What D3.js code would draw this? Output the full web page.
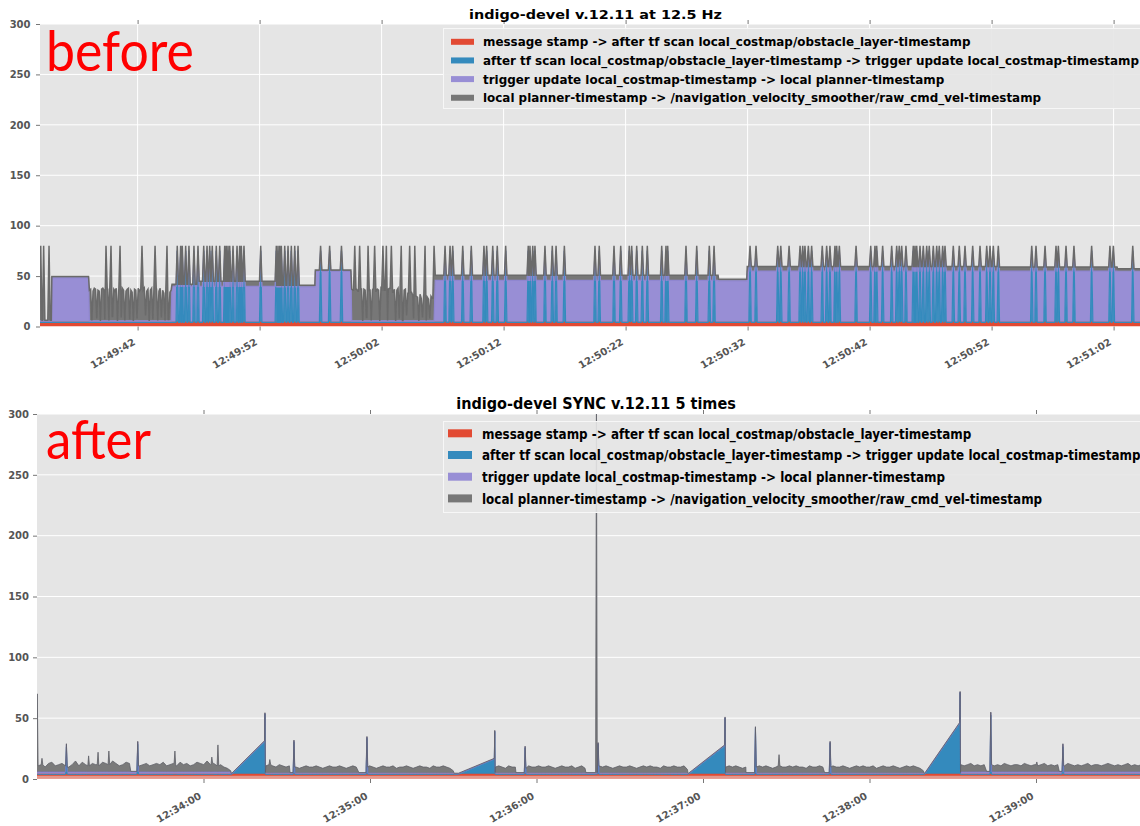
<!DOCTYPE html>
<html><head><meta charset="utf-8">
<script src="https://cdn.jsdelivr.net/npm/d3@7/dist/d3.min.js"></script>
<style>html,body{margin:0;padding:0;background:#fff;}svg{display:block;}</style>
</head><body>
<svg id="chart" width="1140" height="826"></svg>
<script>
// ================= DATA =================
const seriesNames = [
  "message stamp -> after tf scan local_costmap/obstacle_layer-timestamp",
  "after tf scan local_costmap/obstacle_layer-timestamp -> trigger update local_costmap-timestamp",
  "trigger update local_costmap-timestamp -> local planner-timestamp",
  "local planner-timestamp -> /navigation_velocity_smoother/raw_cmd_vel-timestamp"
];
const seriesKeys = ["red", "blue", "purple", "gray"];
const seriesColors = ["#E24A33", "#348ABD", "#988ED5", "#777777"];
const yTickValues = [0, 50, 100, 150, 200, 250, 300];

// ---- top panel ("before"), times in seconds after 12:49:34 ----
const topTitle = "indigo-devel v.12.11 at 12.5 Hz";
const topLabel = "before";
const topStart = "12:49:34", topEnd = "12:51:05";
const topTickLabels = ["12:49:42", "12:49:52", "12:50:02", "12:50:12", "12:50:22", "12:50:32", "12:50:42", "12:50:52", "12:51:02"];
const topRed = 3.5, topBlue = 0.6, topNoisePurple = 1.5, topSpikePeak = 80;
// flat stretches: [start s, end s, purple, gray]
const topBlocks = [
  [0.0, 0.95, 1.5, 0.5],
  [0.95, 4.0, 44.2, 1.2],
  [10.8, 13.0, 35.7, 2.2],
  [13.0, 19.3, 35.7, 5],
  [19.3, 22.55, 35.2, 1.5],
  [22.55, 25.5, 50.5, 1.5],
  [32.4, 55.6, 41.7, 5],
  [55.6, 57.95, 41.2, 1.5],
  [57.95, 78.6, 50.9, 4.6],
  [78.6, 88.3, 50.9, 4],
  [88.3, 91.5, 50.7, 2.5]
];
// noisy stretches: total height of the gray layer top
const topNoise1 = [4.05, 10.75, [36,37,6,35,38,37,8,36,35,5,37,38,36,7,35,37,6,38,36,10,37,35,38,5,36,37,9,38,36,6,35,37,38,7,36,34,5,37,36,8,38,35,37,6,36,38,11,35,37,5,36,38,7,34,36,37,6,35,38,9,36,33,6,35,37,7,34,36]];
const topNoise2 = [25.55, 32.35, [37,36,7,38,37,35,6,36,38,5,37,36,9,38,35,37,6,36,38,7,35,37,36,5,38,37,10,36,35,6,37,38,7,36,34,37,5,36,38,8,37,35,6,36,37,11,33,35,6,34,31,8,33,30,29,5,32,28,9,31,30,6,29,27,8,30,28,6,30]];
const topSpikes = [0.06,0.3,0.74,
  5.41,5.82,6.56,8.36,9.43,10.41,
  11.25,11.53,11.66,11.94,12.21,12.62,12.95,13.42,13.69,13.91,14.12,14.45,14.73,15.14,15.27,15.41,15.55,15.82,16.15,16.37,16.5,16.72,18.09,19.37,19.51,19.65,19.78,20.06,20.33,20.6,20.88,21.15,
  23.0,23.74,24.71,
  25.8,26.2,26.89,27.43,28.11,28.39,28.8,29.61,30.3,30.72,31.56,32.3,
  33.2,33.61,33.83,34.65,35.35,36.39,36.61,37.11,37.48,38.17,40.02,40.16,40.39,40.57,41.39,41.99,42.3,42.98,45.49,45.84,47.05,47.6,48.3,48.5,48.91,49.37,49.78,50.96,51.31,51.45,52.95,53.83,54.86,55.25,
  58.2,58.69,60.47,60.72,61.4,62.3,62.52,62.7,62.98,63.25,64.12,64.48,64.75,65.16,65.3,65.52,66.89,68.09,68.44,68.58,69.07,69.81,70.22,70.43,70.63,70.98,71.58,71.72,71.86,72.13,72.4,72.68,72.89,73.22,73.5,73.71,73.99,74.18,74.86,75.35,75.82,76.45,77.05,77.6,77.87,78.14,78.55,81.29,81.64,82.38,83.28,83.47,84.1,84.75,86.2,87.7,87.98,89.57];

// ---- bottom panel ("after"), times in seconds after 12:33:00 ----
const botTitle = "indigo-devel SYNC v.12.11 5 times";
const botLabel = "after";
const botStart = "12:33:00", botEnd = "12:39:44";
const botTickLabels = ["12:34:00", "12:35:00", "12:36:00", "12:37:00", "12:38:00", "12:39:00"];
const botRed = 3.5, botBlue = 0.3;
// [start s, end s, purple, gray values]
const botSeg1 = [0.5, 69.8, 2, [5,6,4,7,8,5,6,7,5,4,6,9,5,8,6,5,7,6,5,8,7,6,9,7,5,6,8,7,2,1,5,6,7,5,6,7,6,8,5,6,7,5,8,6,7,5,6,8,7,6,9,6,7,5,6,4,3,1]];
const botSeg2 = [82.5, 150.0, 1, [6,7,6,5,7,6,5,6,5,5,4,5,6,5,5,6,5,4,5,6,5,5,6,5,4,5,6,5,5,6,5,6,5,4,5,6,5,5,6,4,5,5,6,5,4,5,6,5,5,4,6,5,5,6,5,4,2]];
const botSeg3 = [165.2, 197.5, 1, [5,6,5,4,6,5,5,6,5,4,6,5,5,6,5,5,6,5,4,5,6,5,5,6,4,5,6,4]];
const botSeg4 = [202.6, 234.4, 1, [6,5,6,5,4,5,6,5,5,6,5,4,5,6,5,6,5,5,4,6,5,5,6,5,5,6,3]];
const botSeg5 = [248.2, 319.4, 1, [5,6,5,6,5,4,5,6,5,5,6,5,6,5,4,5,6,5,5,6,5,6,5,5,4,6,5,5,6,5,4,5,6,5,5,6,5,4,5,6,5,6,5,5,6,4,5,6,5,5,6,5,4,5,6,5,6,5,4,2]];
const botSeg6 = [332.9, 404, 2, [6,5,6,7,5,6,5,6,7,6,5,6,5,7,6,5,6,6,5,7,6,5,6,5,6,7,5,6,5,6,6,5,7,6,5,6,5,6,7,5,6,6,5,6,7,6,5,6,5,6,7,5,6,5,6,6,5,7,6,6]];
const botDips = [[33.8,36.0],[91.2,92.3],[116.0,118.6],[172.6,175.6],[197.8,201.3],[255.5,258.6],[283.8,285.5],[342.2,343.4],[368.4,369.4]];
// [gap start, ramp start, ramp end, blue at ramp end, spike total]
const botRamps = [[70.0,70.2,82.0,27,54.5],[150.3,151.9,164.8,12.5,40],[234.6,234.8,247.8,23.5,51],[319.7,319.9,332.5,42,72]];
const botBlueSpikes = [[10.6,29],[36.3,31],[92.6,32],[118.9,35],[175.9,27],[202.2,30],[258.9,43],[285.8,31],[343.7,55],[369.7,29]];
const botGraySpikes = [[0.1,70],[1.8,17],[18.6,19],[22.0,22],[25.9,23],[49.7,23],[63.0,18],[65.2,28],[83.9,16],[201.6,310],[267.4,20],[360.3,14]];

// ================= BUILD ROWS =================
function buildTop() {
  const rows = [];
  const noises = [topNoise1, topNoise2];
  const push = (t, b, p, g) => rows.push({t, red: topRed, blue: b, purple: p, gray: Math.max(0, g)});
  const near = t => topSpikes.some(s => Math.abs(s - t) < 0.1);
  const base = t => {
    for (const [a, b, p, g] of topBlocks) if (t >= a && t <= b) return {kind: p > 10 ? "block" : "low", p, g};
    for (const [a, b, vals] of noises) if (t >= a - 0.1 && t <= b + 0.1) {
      let i = Math.round((t - a) / (b - a) * (vals.length - 1));
      i = Math.max(0, Math.min(vals.length - 1, i));
      return {kind: "noise", p: topNoisePurple, g: vals[i] - topRed - topBlue - topNoisePurple};
    }
    return {kind: "low", p: 1.5, g: 0.5};
  };
  topBlocks.forEach(([a, b, p, g]) => [a + 0.02, b - 0.02].forEach(t => { if (!near(t)) push(t, topBlue, p, g); }));
  noises.forEach(([a, b, vals]) => vals.forEach((v, i) => {
    const t = a + i * (b - a) / (vals.length - 1);
    if (!near(t)) push(t, topBlue, topNoisePurple, v - topRed - topBlue - topNoisePurple);
  }));
  topSpikes.forEach(s => {
    const L = base(s);
    [s - 0.1, s + 0.1].forEach(t => { const q = base(t); push(t, topBlue, q.p, q.g); });
    if (L.kind === "block") push(s, topSpikePeak - topRed - 5, 0, 5);
    else push(s, topBlue, topNoisePurple, topSpikePeak - topRed - topBlue - topNoisePurple);
  });
  rows.sort((a, b) => a.t - b.t);
  return rows;
}

function buildBottom() {
  const rows = [];
  const segs = [botSeg1, botSeg2, botSeg3, botSeg4, botSeg5, botSeg6];
  const R = botRed, B = botBlue;
  const push = (t, b, p, g) => rows.push({t, red: R, blue: b, purple: p, gray: Math.max(0, g)});
  const inDip = t => botDips.some(([a, b]) => t >= a && t <= b);
  const spikeTimes = botBlueSpikes.map(d => d[0]).concat(botGraySpikes.map(d => d[0]));
  const nearSpike = t => spikeTimes.some(s => Math.abs(s - t) < 0.45);
  const segAt = t => segs.find(([a, b]) => t >= a - 0.6 && t <= b + 0.6);
  const purAt = t => { const s = segAt(t); return s ? s[2] : 1; };
  const grayAt = t => {
    if (inDip(t)) return 0.5;
    const s = segAt(t); if (!s) return 0.5;
    const [a, b, , vals] = s;
    let i = Math.round((t - a) / (b - a) * (vals.length - 1));
    i = Math.max(0, Math.min(vals.length - 1, i));
    return vals[i];
  };
  segs.forEach(([a, b, pur, vals]) => vals.forEach((v, i) => {
    const t = a + i * (b - a) / (vals.length - 1);
    if (!inDip(t) && !nearSpike(t)) push(t, B, pur, v);
  }));
  botDips.forEach(([a, b]) => { push(a, B, purAt(a), 0.5); push(b, B, purAt(b), 0.5); });
  botRamps.forEach(([gap, a, b, peak, spike]) => {
    push(gap, B, 0.5, 0.5); push(a, B, 0.5, 0.5);
    push(b, peak, 0.5, 0.5);
    push(b + 0.15, spike - R - 1, 0.5, 0.5);
    push(b + 0.3, B, 1, 0.5);
  });
  botBlueSpikes.forEach(([t, total]) => {
    const p = purAt(t);
    push(t - 0.3, B, p, grayAt(t - 0.3));
    push(t, total - R - p - 0.5, p, 0.5);
    push(t + 0.3, B, p, grayAt(t + 0.3));
  });
  botGraySpikes.forEach(([t, total]) => {
    const p = purAt(t);
    push(t - 0.3, B, p, grayAt(t - 0.3));
    push(t, B, p, total - R - B - p);
    push(t + 0.3, B, p, grayAt(t + 0.3));
  });
  rows.sort((a, b) => a.t - b.t);
  return rows;
}

// ================= DRAW =================
const svg = d3.select("#chart");
const parse = d3.timeParse("%H:%M:%S");
const FONT = "DejaVu Sans";

// text squeezed horizontally to a target width via a transform
function fitText(parent, str, x, y, targetW, anchor, attrs) {
  const g = parent.append("g");
  const t = g.append("text").attr("x", 0).attr("y", 0).attr("text-anchor", anchor).text(str);
  Object.entries(attrs).forEach(([k, v]) => t.attr(k, v));
  const w = t.node().getComputedTextLength();
  const k = targetW / w;
  g.attr("transform", `translate(${x},${y}) scale(${k},1)`);
  return g;
}

function drawPanel(p) {
  const g = svg.append("g");
  const t0 = parse(p.tStart);
  const x = d3.scaleTime().domain([t0, parse(p.tEnd)]).range([p.left, p.right]);
  const y = d3.scaleLinear().domain([0, 300]).range([p.bottom, p.top]);
  const tickDates = p.tickLabels.map(parse);

  g.append("rect").attr("x", p.left).attr("y", p.top).attr("width", p.right - p.left)
    .attr("height", p.bottom - p.top).attr("fill", "#E5E5E5");
  const clipId = "clip" + p.id;
  g.append("clipPath").attr("id", clipId).append("rect")
    .attr("x", p.left).attr("y", p.top).attr("width", p.right - p.left).attr("height", p.bottom - p.top);

  const grid = g.append("g");
  yTickValues.forEach(v => grid.append("line").attr("x1", p.left).attr("x2", p.right)
    .attr("y1", y(v)).attr("y2", y(v)).attr("stroke", "#fff").attr("stroke-width", 1));
  if (p.vgrid) tickDates.forEach(d => grid.append("line").attr("x1", x(d)).attr("x2", x(d))
    .attr("y1", p.top).attr("y2", p.bottom).attr("stroke", "#fff").attr("stroke-width", 1));

  const rows = p.rows.map(r => ({date: new Date(t0.getTime() + r.t * 1000), red: r.red, blue: r.blue, purple: r.purple, gray: r.gray}));
  const stacked = d3.stack().keys(seriesKeys)(rows);
  const area = d3.area().x(d => x(d.data.date)).y0(d => y(d[0])).y1(d => y(d[1]));
  const line = d3.line().x(d => x(d.data.date)).y(d => y(d[1]));
  const dg = g.append("g").attr("clip-path", `url(#${clipId})`);
  stacked.forEach((s, i) => dg.append("path").attr("d", area(s)).attr("fill", p.fills[i]).attr("fill-opacity", p.fillOpacity[i]));
  stacked.forEach((s, i) => dg.append("path").attr("d", line(s)).attr("fill", "none")
    .attr("stroke", p.strokes[i]).attr("stroke-width", p.lw[i]).attr("stroke-opacity", p.strokeOpacity[i]));

  // axes
  const ya = g.append("g").attr("transform", `translate(${p.left},0)`)
    .call(d3.axisLeft(y).tickValues(yTickValues).tickSize(4).tickPadding(p.ypad).tickFormat(d3.format("d")));
  ya.select(".domain").remove();
  ya.selectAll("line").attr("stroke", "#777");
  ya.selectAll("text").attr("font-family", FONT).attr("font-weight", "bold").attr("font-size", 10).attr("fill", "#555");

  const xa = g.append("g").attr("transform", `translate(0,${p.bottom})`)
    .call(d3.axisBottom(x).tickValues(tickDates).tickSize(4).tickFormat(d3.timeFormat("%H:%M:%S")));
  xa.select(".domain").remove();
  xa.selectAll("line").attr("stroke", "#777");
  xa.selectAll("text").attr("y", 0).attr("dy", 0).attr("text-anchor", "end")
    .attr("transform", `translate(-2,${p.xlabDy}) rotate(-30)`)
    .attr("font-family", FONT).attr("font-weight", "bold").attr("font-size", 10).attr("fill", "#555");

  const xt = g.append("g").attr("transform", `translate(0,${p.top})`)
    .call(d3.axisTop(x).tickValues(tickDates).tickSize(4).tickFormat(""));
  xt.select(".domain").remove();
  xt.selectAll("line").attr("stroke", "#777");

  // title
  fitText(g, p.title, p.titleX, p.titleY, p.titleLen, "middle",
    {"font-family": FONT, "font-weight": "bold", "font-size": p.titleSize, "fill": "#000"});

  // big red label
  fitText(g, p.label, p.labelX, p.labelY, p.labelLen, "start",
    {"font-family": "Lato, 'Liberation Sans', sans-serif", "font-size": p.labelSize, "fill": "#FF0000"});

  // legend
  const lg = g.append("g");
  lg.append("rect").attr("x", p.leg.x).attr("y", p.leg.y).attr("width", 760).attr("height", p.leg.h)
    .attr("fill", "#E5E5E5").attr("fill-opacity", 0.9).attr("stroke", "#f7f7f7").attr("stroke-width", 1);
  const items = [];
  seriesNames.forEach((name, i) => {
    const cy = p.leg.row0 + i * p.leg.step;
    lg.append("rect").attr("x", p.leg.px).attr("y", cy - p.leg.ph / 2).attr("width", p.leg.pw).attr("height", p.leg.ph)
      .attr("fill", seriesColors[i]);
    const ig = lg.append("g");
    const t = ig.append("text").attr("x", 0).attr("y", 0)
      .attr("font-family", FONT).attr("font-weight", "bold").attr("font-size", p.leg.fs).attr("fill", "#000").text(name);
    items.push({ig, t, cy});
  });
  const k = p.leg.row1Len / items[0].t.node().getComputedTextLength();
  items.forEach(({ig, cy}) => ig.attr("transform", `translate(${p.leg.tx},${cy + p.leg.base}) scale(${k},1)`));
}

drawPanel({
  id: "top", rows: buildTop(), tStart: topStart, tEnd: topEnd, tickLabels: topTickLabels,
  left: 40, right: 40 + 91 * 12.2, top: 24, bottom: 326.5, vgrid: true, ypad: 5.5, xlabDy: 17.5,
  fills: ["#E24A33", "#348ABD", "#988ED5", "#777777"], fillOpacity: [1, 0.95, 1, 1],
  strokes: ["#E24A33", "#348ABD", "#8f86d0", "#6a6a6a"], lw: [2.5, 1.2, 1.2, 1.5], strokeOpacity: [1, 1, 1, 1],
  title: topTitle, titleX: 595.5, titleY: 18.5, titleSize: 12.5, titleLen: 253,
  label: topLabel, labelX: 46, labelY: 71, labelSize: 57, labelLen: 148,
  leg: {x: 443.5, y: 28.5, h: 80, row0: 41.8, step: 18.65, px: 451, pw: 23, ph: 6, tx: 483, base: 4.4, fs: 12, row1Len: 488}
});
drawPanel({
  id: "bot", rows: buildBottom(), tStart: botStart, tEnd: botEnd, tickLabels: botTickLabels,
  left: 37, right: 37 + 404 * 2.775, top: 414, bottom: 779, vgrid: false, ypad: 4, xlabDy: 19,
  fills: ["#E24A33", "#348ABD", "#988ED5", "#7a7a7a"], fillOpacity: [0.5, 1, 1, 1],
  strokes: ["#E24A33", "#348ABD", "#7f76c4", "#5f6068"], lw: [2, 1, 1, 1], strokeOpacity: [1, 1, 0.8, 0.8],
  title: botTitle, titleX: 596, titleY: 408.5, titleSize: 15, titleLen: 280,
  label: botLabel, labelX: 46, labelY: 458.5, labelSize: 54, labelLen: 105,
  leg: {x: 443.5, y: 421.5, h: 91, row0: 433.3, step: 21.7, px: 448, pw: 24, ph: 8, tx: 482, base: 5.3, fs: 14.5, row1Len: 490}
});
</script>
</body></html>
